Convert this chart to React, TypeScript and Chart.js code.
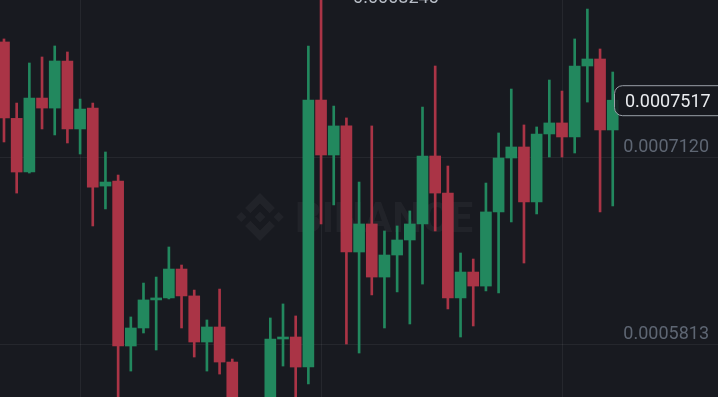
import React, { useEffect, useRef } from "react";
import { Chart, registerables } from "chart.js";

Chart.register(...registerables);

// Prices in units of 1e-7 (e.g. 7120 => 0.0007120)
const opensE7 = [
  7924, 7390, 7015, 7532, 7462, 7791, 7316, 7462, 6917, 6952,
  5799, 5925, 6121, 6135, 6337, 6149, 5827, 5932, 5687, 5330,
  5220, 5350, 5848, 5862, 5652, 7518, 7134, 7337, 6456, 6652,
  6281, 6435, 6540, 6652, 7127, 6868, 6135, 6316, 6218, 6736,
  7113, 7190, 6806, 7281, 7358, 7260, 7756, 7805, 7309,
];
const highsE7 = [
  7945, 7497, 7777, 7819, 7896, 7854, 7525, 7497, 7155, 6994,
  6002, 6239, 6281, 6491, 6365, 6190, 5981, 6197, 5708, 5420,
  5400, 5995, 6093, 6009, 7896, 8245, 7476, 7393, 6945, 7337,
  6603, 6638, 6743, 7469, 7756, 7057, 6449, 6407, 6938, 7288,
  7595, 7344, 7330, 7658, 7581, 7945, 8154, 7875, 7714,
];
const lowsE7 = [
  7225, 6868, 7008, 7316, 7274, 7218, 7141, 6638, 6757, 5380,
  5624, 5890, 5771, 6128, 5925, 5722, 5624, 5603, 5290, 5150,
  5180, 5300, 5659, 5400, 5534, 6652, 6785, 5813, 5750, 6156,
  5925, 6177, 5953, 6232, 6603, 6058, 5862, 5939, 6184, 6170,
  6666, 6379, 6722, 7120, 7120, 7148, 7504, 6736, 6778,
];
const closesE7 = [
  7393, 7015, 7532, 7462, 7791, 7316, 7455, 6910, 6945, 5799,
  5925, 6121, 6135, 6337, 6149, 5827, 5932, 5687, 5330, 5220,
  5350, 5848, 5862, 5652, 7518, 7134, 7337, 6456, 6652, 6281,
  6435, 6540, 6652, 7127, 6868, 6135, 6316, 6218, 6736, 7113,
  7190, 6806, 7281, 7358, 7260, 7756, 7805, 7309, 7517,
];

const priceTicks = [0.000712, 0.0005813];
const timeGridIndices = [6, 25, 44];
const lastPrice = 0.0007517;
const yMin = 0.00054426;
const yMax = 0.00082173;
const xMin = -0.315;
const xMax = 56.3;
const watermarkText = "BINANCE";

const UP = "#22885E";
const DOWN = "#AA3446";
const BG = "#181A20";
const FONT = "Roboto, 'Noto Sans', sans-serif";

const toPrice = (v: number) => v / 1e7;

const decorPlugin = {
  id: "decor",
  beforeDatasetsDraw(chart: any) {
    const ctx = chart.ctx as CanvasRenderingContext2D;
    ctx.save();
    ctx.fillStyle = "rgba(255,255,255,0.045)";
    const cx = 260, cy = 217, s = 24;
    const poly = (pts: number[][]) => {
      ctx.beginPath();
      pts.forEach(([x, y], i) => {
        if (i === 0) ctx.moveTo(cx + x * s, cy + y * s);
        else ctx.lineTo(cx + x * s, cy + y * s);
      });
      ctx.closePath();
      ctx.fill();
    };
    const diamond = (dx: number, dy: number, h: number) =>
      poly([[dx, dy - h], [dx + h, dy], [dx, dy + h], [dx - h, dy]]);
    diamond(0, 0, 0.22);
    diamond(-0.78, 0, 0.21);
    diamond(0.78, 0, 0.21);
    poly([[0, -1], [0.62, -0.38], [0.4, -0.16], [0, -0.56], [-0.4, -0.16], [-0.62, -0.38]]);
    poly([[0, 1], [0.62, 0.38], [0.4, 0.16], [0, 0.56], [-0.4, 0.16], [-0.62, 0.38]]);
    ctx.font = `bold 42px ${FONT}`;
    ctx.textBaseline = "alphabetic";
    ctx.textAlign = "left";
    ctx.fillText(watermarkText, 295, 232);
    ctx.restore();
  },
  afterDraw(chart: any) {
    const ctx = chart.ctx as CanvasRenderingContext2D;
    const yS = chart.scales.y;
    const xS = chart.scales.x;
    const area = chart.chartArea;
    ctx.save();
    ctx.font = `18px ${FONT}`;
    ctx.textBaseline = "alphabetic";
    // grid price labels
    ctx.fillStyle = "#5E6673";
    ctx.textAlign = "right";
    priceTicks.forEach((v) => {
      const y = yS.getPixelForValue(v);
      ctx.fillText(v.toFixed(7), area.right - 9, y - 5);
    });
    // highest price label
    let hiIdx = 0;
    highsE7.forEach((h, i) => { if (h > highsE7[hiIdx]) hiIdx = i; });
    const hiY = yS.getPixelForValue(toPrice(highsE7[hiIdx]));
    const hiX = xS.getPixelForValue(hiIdx);
    ctx.textAlign = "left";
    ctx.fillStyle = "#B7BDC6";
    ctx.fillText(toPrice(highsE7[hiIdx]).toFixed(7), hiX + 32, hiY + 6.5);
    // last price box
    const ly = yS.getPixelForValue(lastPrice);
    const bx = 614.5, by = ly - 14.5, bw = 120, bh = 30, r = 8;
    ctx.beginPath();
    ctx.moveTo(bx + r, by);
    ctx.lineTo(bx + bw - r, by);
    ctx.arcTo(bx + bw, by, bx + bw, by + r, r);
    ctx.lineTo(bx + bw, by + bh - r);
    ctx.arcTo(bx + bw, by + bh, bx + bw - r, by + bh, r);
    ctx.lineTo(bx + r, by + bh);
    ctx.arcTo(bx, by + bh, bx, by + bh - r, r);
    ctx.lineTo(bx, by + r);
    ctx.arcTo(bx, by, bx + r, by, r);
    ctx.closePath();
    ctx.fillStyle = "rgba(24,26,32,0.85)";
    ctx.fill();
    ctx.strokeStyle = "#9AA0A8";
    ctx.lineWidth = 1;
    ctx.stroke();
    ctx.fillStyle = "#EAECEF";
    ctx.fillText(lastPrice.toFixed(7), 625, ly + 7);
    ctx.restore();
  },
};

export default function App() {
  const ref = useRef<HTMLCanvasElement | null>(null);

  useEffect(() => {
    document.body.style.margin = "0";
    document.body.style.background = BG;
    const canvas = ref.current;
    if (!canvas) return;
    const idx = opensE7.map((_, i) => i);
    const colors = idx.map((i) => (closesE7[i] >= opensE7[i] ? UP : DOWN));
    const chart = new Chart(canvas, {
      type: "bar",
      data: {
        datasets: [
          {
            label: "wick",
            data: idx.map((i) => ({ x: i, y: [toPrice(lowsE7[i]), toPrice(highsE7[i])] })) as any,
            backgroundColor: colors,
            barThickness: 2,
            grouped: false,
            order: 2,
          } as any,
          {
            label: "body",
            data: idx.map((i) => ({ x: i, y: [toPrice(opensE7[i]), toPrice(closesE7[i])] })) as any,
            backgroundColor: colors,
            barThickness: 11,
            minBarLength: 2,
            grouped: false,
            order: 1,
          } as any,
        ],
      },
      options: {
        animation: false,
        responsive: false,
        maintainAspectRatio: false,
        events: [],
        layout: { padding: 0 },
        plugins: { legend: { display: false }, tooltip: { enabled: false }, title: { display: false } },
        scales: {
          x: {
            type: "linear",
            min: xMin,
            max: xMax,
            offset: false,
            grid: { color: "rgba(255,255,255,0.06)", drawTicks: false, offset: false },
            border: { display: false },
            ticks: { display: false },
            afterBuildTicks: (s: any) => {
              s.ticks = timeGridIndices.map((v) => ({ value: v }));
            },
          },
          y: {
            type: "linear",
            min: yMin,
            max: yMax,
            grid: { color: "rgba(255,255,255,0.06)", drawTicks: false },
            border: { display: false },
            ticks: { display: false },
            afterBuildTicks: (s: any) => {
              s.ticks = priceTicks.map((v) => ({ value: v }));
            },
          },
        },
      } as any,
      plugins: [decorPlugin],
    });
    return () => chart.destroy();
  }, []);

  return (
    <div style={{ position: "fixed", left: 0, top: 0, width: 718, height: 397, background: BG }}>
      <canvas ref={ref} width={718} height={397} style={{ display: "block" }} />
    </div>
  );
}
